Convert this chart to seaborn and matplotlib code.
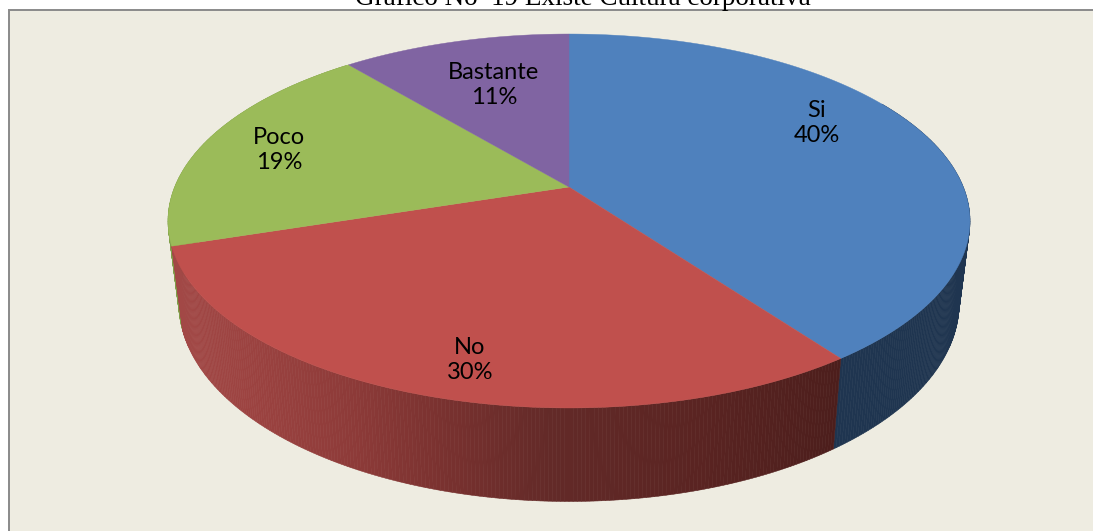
import numpy as np
import matplotlib
matplotlib.use("Agg")
import matplotlib.pyplot as plt
import seaborn as sns

# Survey shares
categories = ["Si", "No", "Poco", "Bastante"]
shares = [40, 30, 19, 11]
title_text = "Gráfico No  19 Existe Cultura corporativa"

sns.set_theme(style="white")
plt.rcParams["font.family"] = ["Lato", "DejaVu Sans"]
face_colors = sns.color_palette(["#4F81BD", "#C0504D", "#9BBB59", "#8064A2"])
wall_base = {0: "#1F3550", 2: "#7F9E48", 3: "#5F4A7A"}

# Shading of the red wall, from its left end to its right end
red_stops_x = [180, 250, 350, 450, 550, 700, 840]
red_stops_rgb = np.array([
    [0xA2, 0x48, 0x46], [0x9C, 0x43, 0x41], [0x8E, 0x3B, 0x39],
    [0x78, 0x31, 0x2F], [0x63, 0x2A, 0x28], [0x5A, 0x24, 0x22],
    [0x4C, 0x1E, 0x1C]]) / 255

# Perspective of the pie: unit disc to canvas pixels
K = 0.1818
CX, CY = 569.0, 187.0
RX, RY = 394.3, 146.8


def top_point(angle_deg, r=1.0):
    t = np.radians(angle_deg)
    u, v = r * np.sin(t), r * np.cos(t)
    w = 1 + K * v
    return CX + RX * u / w, (CY - RY * v) / w


def base_point(angle_deg):
    x, y = top_point(angle_deg)
    return CX + 0.973 * (x - CX), 1.06 * y + 69.0


fig = plt.figure(figsize=(10.93, 5.31), dpi=100, facecolor="white")
ax = fig.add_axes([0, 0, 1, 1])
ax.set_xlim(0, 1093)
ax.set_ylim(531, 0)
ax.axis("off")

# Chart area, open towards the right and bottom edges
ax.fill([8.5, 1100, 1100, 8.5], [10, 10, 540, 540], color="#EEECE1", lw=0, zorder=0)
ax.plot([8.5, 8.5, 1100], [540, 10, 10], color="#8A8A8A", lw=1.4, zorder=1,
        solid_joinstyle="miter")

ax.text(583, 5, title_text, family="Liberation Serif", fontsize=19.5,
        ha="center", va="baseline", color="black", zorder=5)

bounds = np.concatenate([[0], np.cumsum(shares)]) * 3.6

# Outer wall, painted from the back towards the viewer
step = 0.5
angles = np.arange(60, 320, step)
for a in sorted(angles, key=lambda d: -np.cos(np.radians(d))):
    idx = int(np.searchsorted(bounds, a + step / 2) - 1)
    pts = [top_point(a), top_point(a + step), base_point(a + step), base_point(a)]
    xs, ys = zip(*pts)
    if idx == 1:
        mid_x = np.mean(xs)
        col = [np.interp(mid_x, red_stops_x, red_stops_rgb[:, c]) for c in range(3)]
    else:
        col = wall_base[idx]
    ax.fill(xs, ys, color=col, lw=0.4, zorder=2)

# Top faces
for i, share in enumerate(shares):
    arc = np.linspace(bounds[i], bounds[i + 1], 200)
    px, py = top_point(arc)
    ax.fill(np.r_[CX, px], np.r_[CY, py], color=face_colors[i], lw=0.3, zorder=3)

# Label anchors on the canvas
label_xy = [(817, 123), (470, 360), (279, 150), (494, 85)]
for name, share, (lx, ly) in zip(categories, shares, label_xy):
    ax.text(lx, ly, f"{name}\n{share}%", ha="center", va="center", fontsize=17,
            color="black", linespacing=1.2, zorder=4)

fig.savefig("out.png", dpi=100)
